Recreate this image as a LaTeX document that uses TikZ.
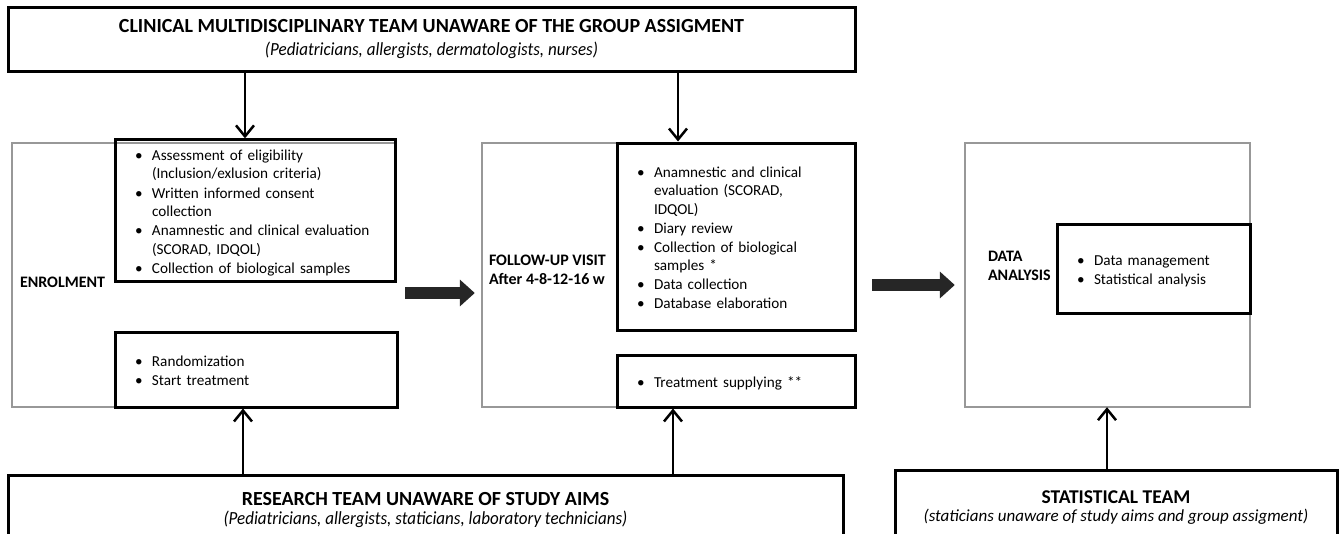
\documentclass[tikz,border=0pt]{standalone}
\usepackage{fontspec}
\setmainfont{Carlito}
\newfontfamily\narrowfont[FakeStretch=0.92]{Carlito}
\usetikzlibrary{arrows.meta}

\newcommand{\itm}[1]{\par\noindent\hbox to 17pt{\textbullet\hfil}\begin{tabular}[t]{@{}l@{}}#1\end{tabular}}
\newcommand{\bulletfont}{\fontsize{15.2}{18.4}\selectfont}
\newcommand{\teamfont}{\fontsize{20}{23}\selectfont\bfseries}

\tikzset{
	teambox/.style={draw, line width=3pt, align=center, inner sep=0pt},
	inbox/.style={draw, line width=3pt, align=left, inner xsep=20pt, inner ysep=2pt, font=\bulletfont},
	phase/.style={draw=none, inner sep=0pt},
	phaselbl/.style={align=left, inner sep=0pt, font=\fontsize{16}{19}\selectfont\bfseries},
	thinarr/.style={line width=2.5pt, -{Straight Barb[length=11pt,width=18pt]}},
	blockarr/.style={line width=12pt, darkarr, -{Triangle[length=15pt,width=26pt]}}
}

\begin{document}
\begin{tikzpicture}[x=1pt,y=-1pt]
					\definecolor{phasegray}{HTML}{989898}
					\definecolor{darkarr}{HTML}{262626}
					\useasboundingbox[fill=white] (0,0) rectangle (1339,533);

					% grey phase frames
					\node[phase, minimum width=383pt, minimum height=264pt] (enr) at (203.5,275) {};
					\node[phase, minimum width=373pt, minimum height=264pt] (fu) at (668.5,275) {};
					\node[phase, minimum width=285pt, minimum height=264pt] (dat) at (1107.5,275) {};
					\draw[line width=2.5pt, phasegray] (enr.north east) -- (enr.north west) -- (enr.south west) -- (enr.south east);
					\draw[line width=2.5pt, phasegray] (fu.north east) -- (fu.north west) -- (fu.south west) -- (fu.south east);
					\draw[line width=2.5pt, phasegray] (dat.north west) rectangle (dat.south east);

					\node[phaselbl, anchor=west] (enrlbl) at ([xshift=8pt,yshift=-7pt]enr.west) {ENROLMENT};
					\node[phaselbl, anchor=west] (fulbl) at ([xshift=7pt,yshift=5pt]fu.west) {FOLLOW-UP VISIT\\After 4-8-12-16 w};
					\node[phaselbl, anchor=west] (datlbl) at ([xshift=23pt,yshift=9pt]dat.west) {DATA\\ANALYSIS};

					% task boxes
					\node[inbox, minimum width=280pt, minimum height=135pt, text width=240pt] (enrtop) at (255,210.5) {\itm{Assessment of eligibility\\(Inclusion/exlusion criteria)}\itm{Written informed consent\\collection}\itm{Anamnestic and clinical evaluation\\(SCORAD, IDQOL)}\itm{Collection of biological samples}};
					\node[inbox, minimum width=282pt, minimum height=75pt, text width=242pt] (enrbot) at (256,369.5) {\itm{Randomization}\itm{Start treatment}};
					\node[inbox, minimum width=238pt, minimum height=187pt, text width=198pt] (futop) at (736,236.5) {\itm{Anamnestic and clinical\\evaluation (SCORAD,\\IDQOL)}\itm{Diary review}\itm{Collection of biological\\samples *}\itm{Data collection}\itm{Database elaboration}};
					\node[inbox, minimum width=238pt, minimum height=52pt, text width=198pt] (fubot) at (736,381) {\itm{Treatment supplying **}};
					\node[inbox, minimum width=193pt, minimum height=89pt, text width=153pt] (datin) at (1153.5,268.5) {\itm{Data management}\itm{Statistical analysis}};

					% teams
					\node[teambox, minimum width=847pt, minimum height=64pt] (clin) at (431.5,39) {{\teamfont CLINICAL MULTIDISCIPLINARY TEAM UNAWARE OF THE GROUP ASSIGMENT}\\[8pt]{\narrowfont\itshape\fontsize{18.5}{21}\selectfont (Pediatricians, allergists, dermatologists, nurses)}};
					\node[teambox, minimum width=835pt, minimum height=70pt] (res) at (425.5,510) {{\teamfont RESEARCH TEAM UNAWARE OF STUDY AIMS}\\[5pt]{\narrowfont\itshape\fontsize{18.5}{21}\selectfont (Pediatricians, allergists, staticians, laboratory technicians)}};
					\node[teambox, minimum width=442pt, minimum height=75pt] (stat) at (1116,507.5) {{\fontsize{19.5}{22}\selectfont\bfseries STATISTICAL TEAM}\\[5pt]{\itshape\fontsize{17}{20}\selectfont (staticians unaware of study aims and group assigment)}};

					\draw[thinarr] ([xshift=-10pt]enrtop.north |- clin.south) -- ([xshift=-10pt]enrtop.north);
					\draw[thinarr] ([xshift=-58pt]futop.north |- clin.south) -- ([xshift=-58pt]futop.north);
					\draw[thinarr] ([xshift=-13pt]enrbot.south |- res.north) -- ([xshift=-13pt]enrbot.south);
					\draw[thinarr] ([xshift=-63pt]fubot.south |- res.north) -- ([xshift=-63pt]fubot.south);
					\draw[thinarr] ([xshift=-9pt]stat.north) -- ([xshift=-9pt]stat.north |- dat.south);

					\draw[blockarr] ([xshift=10pt,yshift=-18pt]enr.east) -- ([xshift=-7pt,yshift=-18pt]fu.west);
					\draw[blockarr] ([xshift=17pt,yshift=-10pt]fu.east) -- ([xshift=-10pt,yshift=-10pt]dat.west);
				\end{tikzpicture}
\end{document}
